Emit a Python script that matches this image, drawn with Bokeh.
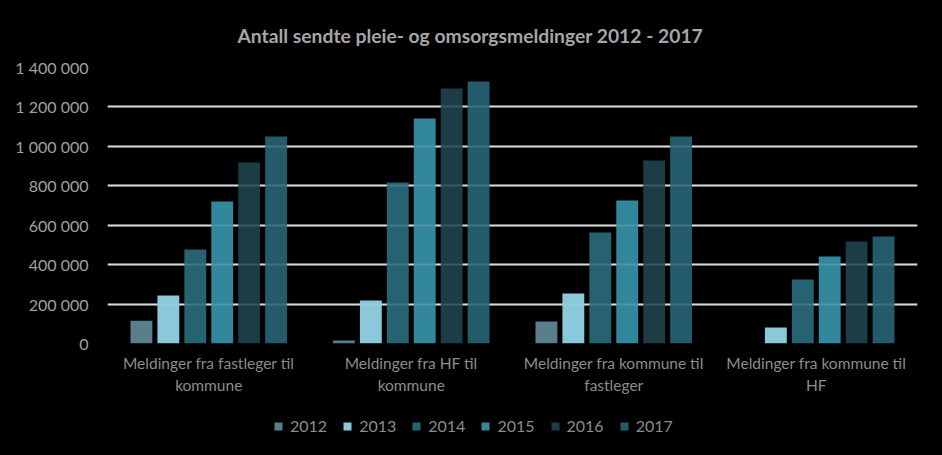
from bokeh.plotting import figure
from bokeh.layouts import column
from bokeh.models import (ColumnDataSource, Range1d, FixedTicker, Legend,
                          LegendItem, Grid, LinearAxis)
from bokeh.transform import dodge
from bokeh.embed import file_html
from bokeh.resources import INLINE

categories = ["Meldinger fra fastleger til kommune",
              "Meldinger fra HF til kommune",
              "Meldinger fra kommune til fastleger",
              "Meldinger fra kommune til HF"]
label_line1 = ["Meldinger fra fastleger til", "Meldinger fra HF til",
               "Meldinger fra kommune til", "Meldinger fra kommune til"]
label_line2 = ["kommune", "kommune", "fastleger", "HF"]
years = ["2012", "2013", "2014", "2015", "2016", "2017"]
v2012 = [115000, 15000, 112000, 0]
v2013 = [243000, 218000, 254000, 81000]
v2014 = [477000, 817000, 563000, 325000]
v2015 = [720000, 1141000, 725000, 441000]
v2016 = [918000, 1293000, 928000, 517000]
v2017 = [1050000, 1329000, 1050000, 543000]
y_ticks = [0, 200000, 400000, 600000, 800000, 1000000, 1200000, 1400000]
colors = ["#5b7f8a", "#8ac8da", "#276272", "#33879c", "#1c3c46", "#245b6b"]

series = [v2012, v2013, v2014, v2015, v2016, v2017]
idx = list(range(len(categories)))
data = {"cat": categories, "idx": idx}
for y, s in zip(years, series):
    data["y" + y] = s
source = ColumnDataSource(data)

BLACK = {"background-color": "black"}
W = 942
H_MAIN, H_LEG = 400, 55
p = figure(width=W, height=H_MAIN, x_range=Range1d(-0.5, len(categories) - 0.5),
           y_range=Range1d(0, 1400000),
           output_backend="svg", toolbar_location=None,
           background_fill_color="black", border_fill_color="black",
           min_border_left=107, min_border_right=25, min_border_top=67, min_border_bottom=57,
           styles=BLACK)
p.outline_line_color = None

p.title.text = "Antall sendte pleie- og omsorgsmeldinger 2012 - 2017"
p.title.align = "left"
p.title.offset = 130
p.title.text_color = "#a6a6a6"
p.title.text_font = "Lato"
p.title.text_font_size = "19.3px"
p.title.text_font_style = "bold"
p.title.standoff = 41

stride = 0.133
width = 0.108
for i, (y, c) in enumerate(zip(years, colors)):
    off = (i - 2.5) * stride
    p.vbar(x=dodge("idx", off), top="y" + y, width=width,
           source=source, fill_color=c, line_color=None)

# grids
p.xgrid.visible = False
p.ygrid.ticker = FixedTicker(ticks=y_ticks)
p.ygrid.grid_line_color = "#d9d9d9"
p.ygrid.grid_line_width = 2
over = Grid(dimension=1, ticker=FixedTicker(ticks=y_ticks), grid_line_color="#d9d9d9",
            grid_line_alpha=0.18, grid_line_width=2, level="overlay")
p.add_layout(over)

# y axis
p.yaxis.ticker = FixedTicker(ticks=y_ticks)
p.yaxis.major_label_overrides = {t: f"{t:,}".replace(",", " ") for t in y_ticks}
p.yaxis.axis_line_color = None
p.yaxis.major_tick_line_color = None
p.yaxis.minor_tick_line_color = None
p.yaxis.major_tick_out = 0
p.yaxis.major_tick_in = 0
p.yaxis.major_label_standoff = 19
p.yaxis.major_label_text_color = "#a0a0a0"
p.yaxis.major_label_text_font = "Lato"
p.yaxis.major_label_text_font_size = "16px"


def style_x(ax, standoff):
    ax.ticker = FixedTicker(ticks=idx)
    ax.axis_line_color = None
    ax.major_tick_line_color = None
    ax.minor_tick_line_color = None
    ax.major_tick_out = 0
    ax.major_tick_in = 0
    ax.major_label_standoff = standoff
    ax.major_label_text_color = "#8c8c8c"
    ax.major_label_text_font = "Lato"
    ax.major_label_text_font_size = "15.5px"


ax1 = p.xaxis[0]
ax1.major_label_overrides = dict(zip(idx, label_line1))
style_x(ax1, 10)
ax2 = LinearAxis(major_label_overrides=dict(zip(idx, label_line2)))
style_x(ax2, 1)
p.add_layout(ax2, "below")

# legend strip underneath (its frame is aligned with the main frame by the column layout)
lg = figure(width=W, height=H_LEG, x_range=Range1d(0, 1), y_range=Range1d(0, 1),
            output_backend="svg", toolbar_location=None,
            background_fill_color="black", border_fill_color="black",
            min_border_left=107, min_border_right=25, min_border_top=0, min_border_bottom=0,
            styles=BLACK)
lg.outline_line_color = None
lg.axis.visible = False
lg.grid.visible = False
proxy = ColumnDataSource(dict(x=[-5.0], top=[-5.0]))  # legend swatch proxy, off-range
items = []
for y, c in zip(years, colors):
    r = lg.vbar(x="x", top="top", width=0.1, source=proxy, fill_color=c, line_color=None)
    items.append(LegendItem(label=y, renderers=[r]))
legend = Legend(items=items, orientation="horizontal", location=(166, 20),
                background_fill_alpha=0, border_line_color=None,
                label_text_color="#8c8c8c", label_text_font="Lato",
                label_text_font_size="16px", glyph_width=10, glyph_height=10,
                label_standoff=7, spacing=15, padding=0, margin=0)
lg.add_layout(legend, "center")

layout = column(p, lg, spacing=0, styles=BLACK)
open("out.html", "w").write(file_html(layout, INLINE))
